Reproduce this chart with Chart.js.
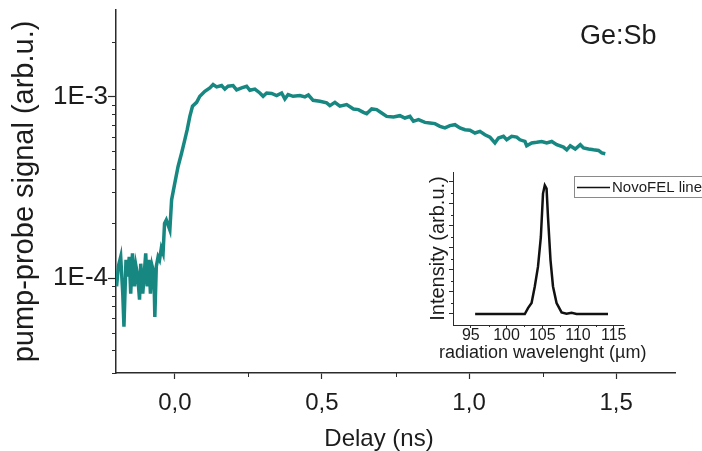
<!DOCTYPE html>
<html>
<head>
<meta charset="utf-8">
<title>Ge:Sb pump-probe</title>
<script src="https://cdn.jsdelivr.net/npm/chart.js@4.4.0/dist/chart.umd.min.js"></script>
<style>
    html, body { margin: 0; padding: 0; background: #fff; }
    #wrap { position: relative; width: 702px; height: 451px; overflow: hidden;
            font-family: 'Liberation Sans', Arial, sans-serif; color: #1c1c1c; }
    #mainChart { position: absolute; left: 0; top: 0; }
    #insetChart { position: absolute; left: 400px; top: 160px; }
    .txt { position: absolute; white-space: nowrap; }
</style>
</head>
<body>
<div id="wrap">
    <canvas id="mainChart" width="702" height="451"></canvas>
    <canvas id="insetChart" width="302" height="210"></canvas>
    <div class="txt" style="left:580px; top:22px; font-size:27px; line-height:27px;">Ge:Sb</div>
    <div class="txt" style="left:279px; width:200px; text-align:center; top:426px; font-size:24px; line-height:24px;">Delay (ns)</div>
    <div class="txt" style="left:439px; width:200px; text-align:center; top:343px; font-size:18px; line-height:18px;">radiation wavelenght (&micro;m)</div>
</div>
<script>
// ========================================
// DATA
// ========================================

// main curve: delay (ns) vs pump-probe signal (arb.u.)
const delays = [
    -0.198, -0.192, -0.184, -0.177, -0.173, -0.166, -0.160, -0.155, -0.150, -0.144,
    -0.137, -0.132, -0.126, -0.120, -0.116, -0.109, -0.104, -0.099, -0.094, -0.088,
    -0.083, -0.077, -0.071, -0.068, -0.063, -0.057, -0.052, -0.046, -0.040, -0.035,
    -0.029, -0.017, -0.011, 0.000, 0.011, 0.023, 0.034, 0.042, 0.051, 0.060,
    0.074, 0.085, 0.102, 0.119, 0.130, 0.142, 0.159, 0.170, 0.181, 0.198,
    0.210, 0.227, 0.244, 0.255, 0.272, 0.289, 0.300, 0.312, 0.329, 0.346,
    0.363, 0.374, 0.385, 0.402, 0.425, 0.442, 0.454, 0.470, 0.493, 0.516,
    0.527, 0.544, 0.561, 0.584, 0.607, 0.624, 0.641, 0.652, 0.669, 0.686,
    0.703, 0.720, 0.743, 0.765, 0.782, 0.799, 0.811, 0.828, 0.850, 0.867,
    0.884, 0.901, 0.918, 0.935, 0.952, 0.969, 0.986, 1.003, 1.020, 1.037,
    1.054, 1.071, 1.088, 1.100, 1.117, 1.128, 1.145, 1.162, 1.173, 1.190,
    1.196, 1.213, 1.230, 1.247, 1.264, 1.281, 1.298, 1.321, 1.332, 1.344,
    1.361, 1.378, 1.389, 1.406, 1.423, 1.440, 1.451, 1.463
];
const signal = [
    0.90e-4, 1.16e-4, 1.31e-4, 0.82e-4, 0.54e-4, 1.26e-4, 1.02e-4, 1.31e-4, 0.82e-4, 1.37e-4,
    0.90e-4, 1.16e-4, 1.02e-4, 0.76e-4, 1.20e-4, 0.82e-4, 1.06e-4, 1.37e-4, 0.90e-4, 1.26e-4,
    0.82e-4, 1.16e-4, 1.06e-4, 0.61e-4, 1.16e-4, 1.31e-4, 1.26e-4, 1.46e-4, 1.37e-4, 2.00e-4,
    2.09e-4, 1.84e-4, 2.70e-4, 3.35e-4, 4.12e-4, 4.89e-4, 5.79e-4, 6.57e-4, 7.78e-4, 8.85e-4,
    9.30e-4, 1.005e-3, 1.07e-3, 1.117e-3, 1.165e-3, 1.13e-3, 1.15e-3, 1.10e-3, 1.14e-3, 1.15e-3,
    1.09e-3, 1.117e-3, 1.14e-3, 1.083e-3, 1.10e-3, 1.047e-3, 1.004e-3, 1.047e-3, 1.04e-3, 1.013e-3,
    1.047e-3, 0.97e-3, 1.026e-3, 1.004e-3, 1.013e-3, 0.996e-3, 1.02e-3, 0.954e-3, 0.942e-3, 0.923e-3,
    0.892e-3, 0.93e-3, 0.885e-3, 0.903e-3, 0.855e-3, 0.848e-3, 0.819e-3, 0.805e-3, 0.855e-3, 0.848e-3,
    0.812e-3, 0.778e-3, 0.772e-3, 0.785e-3, 0.762e-3, 0.778e-3, 0.731e-3, 0.746e-3, 0.721e-3, 0.716e-3,
    0.710e-3, 0.686e-3, 0.672e-3, 0.692e-3, 0.700e-3, 0.672e-3, 0.657e-3, 0.652e-3, 0.630e-3, 0.643e-3,
    0.616e-3, 0.598e-3, 0.555e-3, 0.591e-3, 0.604e-3, 0.578e-3, 0.604e-3, 0.598e-3, 0.578e-3, 0.566e-3,
    0.536e-3, 0.555e-3, 0.560e-3, 0.566e-3, 0.555e-3, 0.566e-3, 0.543e-3, 0.527e-3, 0.509e-3, 0.536e-3,
    0.514e-3, 0.543e-3, 0.521e-3, 0.514e-3, 0.509e-3, 0.505e-3, 0.489e-3, 0.484e-3
];

// main axes ticks
const xMajorTicks = [0, 0.5, 1.0, 1.5];
const xTickLabels = ['0,0', '0,5', '1,0', '1,5'];
const xMinorTicks = [0.25, 0.75, 1.25];
const yMajorTicks = [1e-4, 1e-3];
const yTickLabels = ['1E-4', '1E-3'];
const yMinorTicks = [3e-5, 4e-5, 5e-5, 6e-5, 7e-5, 8e-5, 9e-5,
                     2e-4, 3e-4, 4e-4, 5e-4, 6e-4, 7e-4, 8e-4, 9e-4, 2e-3];

// inset: NovoFEL line spectrum
const wavelength = [95.6, 102.55, 103.0, 103.5, 103.95, 104.4, 104.8, 105.1, 105.35, 105.6,
                    105.8, 106.15, 106.5, 107.0, 107.7, 108.4, 109.1, 109.8, 114.2];
const intensity = [0, 0, 0.27, 0.5, 1.25, 2.15, 3.5, 5.47, 5.85, 5.7,
                   4.4, 2.45, 1.25, 0.5, 0.07, 0.01, 0.05, 0, 0];
const insetXTicks = [95, 100, 105, 110, 115];
const insetXMinor = [97.5, 102.5, 107.5, 112.5];
const insetYTicks = [0, 1, 2, 3, 4, 5, 6];
const insetYMinor = [0.5, 1.5, 2.5, 3.5, 4.5, 5.5];

// ========================================
// HELPERS
// ========================================

const AXIS_COLOR = '#2b2b2b';
const TEXT_COLOR = '#1c1c1c';
Chart.defaults.font.family = "'Liberation Sans', Arial, sans-serif";
Chart.defaults.color = TEXT_COLOR;

// short outward ticks between the labelled ones
function minorTicks(specs) {
    return {
        id: 'minorTicks',
        afterDraw(chart) {
            const ctx = chart.ctx;
            ctx.save();
            ctx.strokeStyle = AXIS_COLOR;
            ctx.lineWidth = 1;
            Object.keys(specs).forEach(id => {
                const scale = chart.scales[id];
                const spec = specs[id];
                spec.values.forEach(v => {
                    const p = Math.round(scale.getPixelForValue(v)) + 0.5;
                    ctx.beginPath();
                    if (scale.isHorizontal()) {
                        ctx.moveTo(p, scale.top);
                        ctx.lineTo(p, scale.top + spec.length);
                    } else {
                        ctx.moveTo(scale.right, p);
                        ctx.lineTo(scale.right - spec.length, p);
                    }
                    ctx.stroke();
                });
            });
            ctx.restore();
        }
    };
}

// boxed legend that sits over the top right of the inset
const boxLegend = {
    id: 'boxLegend',
    afterDraw(chart) {
        const ctx = chart.ctx;
        const label = chart.data.datasets[0].label;
        ctx.save();
        ctx.strokeStyle = '#8a8a8a';
        ctx.lineWidth = 1;
        ctx.strokeRect(174.5, 16.5, 140, 21);
        ctx.strokeStyle = '#111';
        ctx.lineWidth = 1.5;
        ctx.beginPath();
        ctx.moveTo(177, 27.5);
        ctx.lineTo(210, 27.5);
        ctx.stroke();
        ctx.fillStyle = TEXT_COLOR;
        ctx.font = "15px 'Liberation Sans', Arial, sans-serif";
        ctx.textBaseline = 'middle';
        ctx.fillText(label, 212, 28);
        ctx.restore();
    }
};

function setTicks(values) {
    return scale => { scale.ticks = values.map(v => ({ value: v })); };
}

// ========================================
// MAIN CHART
// ========================================

new Chart(document.getElementById('mainChart'), {
    type: 'line',
    data: {
        datasets: [{
            label: 'Ge:Sb',
            data: delays.map((d, i) => ({ x: d, y: signal[i] })),
            borderColor: '#178781',
            borderWidth: 3.5,
            pointRadius: 0,
            tension: 0,
            fill: false
        }]
    },
    options: {
        responsive: false,
        animation: false,
        events: [],
        layout: { padding: { left: 0, right: 27, top: 10, bottom: 0 } },
        plugins: { legend: { display: false }, tooltip: { enabled: false } },
        scales: {
            x: {
                type: 'linear',
                min: -0.2,
                max: 1.7,
                afterBuildTicks: setTicks(xMajorTicks),
                afterFit: s => { s.height = 78; s.paddingLeft = 0; s.paddingRight = 0; },
                grid: { drawOnChartArea: false, drawTicks: true, tickLength: 6, tickColor: AXIS_COLOR, tickWidth: 1.2 },
                border: { display: true, color: AXIS_COLOR, width: 1.5 },
                ticks: {
                    callback: v => xTickLabels[xMajorTicks.indexOf(v)],
                    font: { size: 24 },
                    padding: 10,
                    maxRotation: 0,
                    autoSkip: false
                }
            },
            y: {
                type: 'logarithmic',
                min: 3e-5,
                max: 3e-3,
                afterBuildTicks: setTicks(yMajorTicks),
                afterFit: s => { s.width = 116; s.paddingTop = 0; s.paddingBottom = 0; },
                grid: { drawOnChartArea: false, drawTicks: true, tickLength: 8, tickColor: AXIS_COLOR, tickWidth: 1.2 },
                border: { display: true, color: AXIS_COLOR, width: 1.5 },
                ticks: {
                    callback: v => yTickLabels[yMajorTicks.indexOf(v)],
                    font: { size: 26 },
                    padding: 0,
                    autoSkip: false
                },
                title: {
                    display: true,
                    text: 'pump-probe signal (arb.u.)',
                    font: { size: 29 },
                    padding: { top: 8, bottom: 0 }
                }
            }
        }
    },
    plugins: [minorTicks({ x: { values: xMinorTicks, length: 4 }, y: { values: yMinorTicks, length: 4 } })]
});

// ========================================
// INSET CHART
// ========================================

new Chart(document.getElementById('insetChart'), {
    type: 'line',
    data: {
        datasets: [{
            label: 'NovoFEL line',
            data: wavelength.map((w, i) => ({ x: w, y: intensity[i] })),
            borderColor: '#111',
            borderWidth: 2.5,
            pointRadius: 0,
            tension: 0,
            fill: false
        }]
    },
    options: {
        responsive: false,
        animation: false,
        events: [],
        layout: { padding: { left: 0, right: 79, top: 12, bottom: 0 } },
        plugins: { legend: { display: false }, tooltip: { enabled: false } },
        scales: {
            x: {
                type: 'linear',
                min: 92.5,
                max: 116.3,
                afterBuildTicks: setTicks(insetXTicks),
                afterFit: s => { s.height = 45; s.paddingLeft = 0; s.paddingRight = 0; },
                grid: { drawOnChartArea: false, drawTicks: true, tickLength: 3, tickColor: AXIS_COLOR, tickWidth: 1 },
                border: { display: true, color: AXIS_COLOR, width: 1 },
                ticks: {
                    font: { size: 16, lineHeight: 1 },
                    padding: 0,
                    maxRotation: 0,
                    autoSkip: false
                }
            },
            y: {
                type: 'linear',
                min: -0.5,
                max: 6.45,
                afterBuildTicks: setTicks(insetYTicks),
                afterFit: s => { s.width = 53; s.paddingTop = 0; s.paddingBottom = 0; },
                grid: { drawOnChartArea: false, drawTicks: true, tickLength: 4, tickColor: AXIS_COLOR, tickWidth: 1 },
                border: { display: true, color: AXIS_COLOR, width: 1 },
                ticks: { display: false },
                title: {
                    display: true,
                    text: 'Intensity (arb.u.)',
                    font: { size: 20 },
                    padding: { top: 26, bottom: 0 }
                }
            }
        }
    },
    plugins: [minorTicks({ x: { values: insetXMinor, length: 2 }, y: { values: insetYMinor, length: 2 } }), boxLegend]
});
</script>
</body>
</html>
